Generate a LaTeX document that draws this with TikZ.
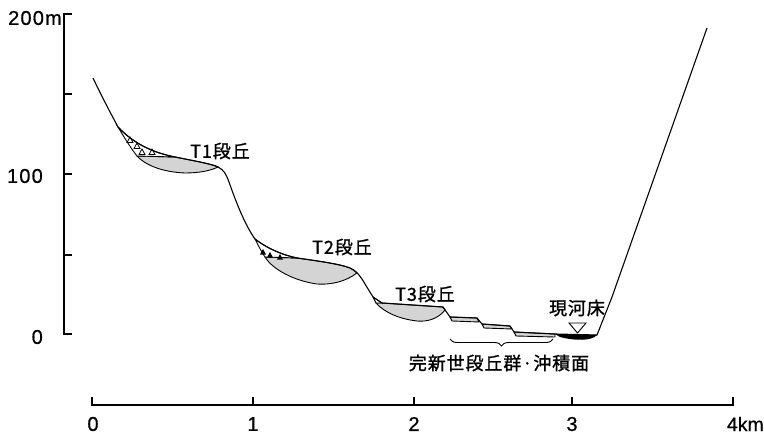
\documentclass[tikz,border=0pt]{standalone}
\usepackage{fontspec}
\setmainfont{Liberation Sans}
\newfontfamily\numfont[LetterSpace=6, FakeBold=0.6]{Liberation Sans}
\newfontfamily\unitfont[FakeBold=0.6]{Liberation Sans}
\newfontfamily\jfont[LetterSpace=5, FakeBold=1.2]{Noto Sans CJK JP}
\usetikzlibrary{decorations.pathreplacing}
\begin{document}
\begin{tikzpicture}[x=1pt,y=-1pt,
  axis/.style={line width=1.4pt},
  ground/.style={line width=1.1pt, line join=round},
  deposit/.style={fill=black!17, draw=black, line width=0.9pt},
  gravel/.style={fill=white, draw=black, line width=0.9pt},
  pebble/.style={draw=black, line width=0.8pt},
  numlabel/.style={font=\numfont\fontsize{20}{20}\selectfont, inner sep=0pt},
  jlabel/.style={font=\jfont\fontsize{18}{18}\selectfont, inner sep=0pt}]
\useasboundingbox (0,0) rectangle (764,439);

% vertical scale (metres)
\draw[axis] (72,14) -- (64,14) -- (64,334) -- (72,334);
\foreach \yy in {94,174,255} \draw[axis] (64,\yy) -- (72,\yy);
\node[numlabel, anchor=east] (y200) at (62,18) {200m};
\node[numlabel, anchor=east] (y100) at (43,176) {100};
\node[numlabel, anchor=east] (y0) at (43,337) {0};

% horizontal scale (km)
\draw[axis] (92,397) -- (92,405) -- (733,405) -- (733,397);
\foreach \xx in {253,414,572} \draw[axis] (\xx,405) -- (\xx,397);
\node[numlabel] (x0) at (93,424) {0};
\node[numlabel] (x1) at (253,424) {1};
\node[numlabel] (x2) at (414,424) {2};
\node[numlabel] (x3) at (572,424) {3};
\node[inner sep=0pt, font=\unitfont\fontsize{19.5}{19.5}\selectfont, anchor=east] (x4) at (764,424) {4km};

% T1 terrace: fill lens and gravel wedge
\path[deposit] (137,156) -- (175,157) .. controls (195,161) and (212,164) .. (218,167)
  .. controls (210,171) and (198,173) .. (185,173)
  .. controls (162,172) and (145,165) .. cycle;
\path[gravel] (118,127) .. controls (135,145) and (155,153) .. (175,157) -- (137,156)
  .. controls (130,147) and (124,137) .. cycle;
\foreach \p in {(130,140),(137,146),(142,152),(152,152)}
  \draw[pebble] \p ++(-3,2.5) -- ++(6,0) -- ++(-3,-5.5) -- cycle;

% T2 terrace
\path[deposit] (265,257) -- (297,258) .. controls (318,261) and (340,264) .. (350,268)
  .. controls (353,269) and (355,271) .. (357,273)
  .. controls (345,282) and (330,285) .. (317,284)
  .. controls (295,281) and (273,270) .. cycle;
\path[gravel] (255,239) .. controls (268,249) and (283,255) .. (297,258) -- (265,257)
  .. controls (261,251) and (258,245) .. cycle;
\foreach \p in {(263,252),(270,255),(280,257)}
  \fill \p ++(-3,2.5) -- ++(6,0) -- ++(-3,-5.5) -- cycle;

% T3 terrace
\path[deposit] (376,303) -- (382,303) -- (443,307) -- (445,310)
  .. controls (438,319) and (427,322) .. (417,321)
  .. controls (400,319) and (385,313) .. cycle;
\path[gravel] (373,297) -- (382,303) -- (376,303) -- cycle;

% Holocene terrace strips
\path[deposit] (450,317) -- (477,318) -- (479,322) -- (452,321) -- cycle;
\path[deposit] (482,324) -- (510,326) -- (512,329) -- (484,328) -- cycle;
\path[deposit] (514,332) -- (555,334) -- (555,337) -- (516,336) -- cycle;

% present river bed
\fill (555,334) -- (597,335) .. controls (592,341) and (575,341) .. (560,337) -- cycle;

% valley cross-section profile
\draw[ground] (93,78) .. controls (101,95) and (110,112) .. (118,127)
  .. controls (135,145) and (155,153) .. (175,157)
  .. controls (195,161) and (212,164) .. (218,167)
  .. controls (224,170) and (226,174) .. (229,182)
  .. controls (236,202) and (245,225) .. (255,239)
  .. controls (268,249) and (283,255) .. (297,258)
  .. controls (318,261) and (340,264) .. (350,268)
  .. controls (357,271) and (361,277) .. (365,284)
  -- (373,297) -- (382,303) -- (443,307) -- (450,317) -- (477,318)
  -- (482,324) -- (510,326) -- (514,332) -- (555,334) -- (597,335)
  -- (612,297) -- (707,28);

% water level mark
\draw[line width=0.9pt, fill=white] (569,323) -- (586,323) -- (577.5,333) -- cycle;

% brace under the Holocene terraces
\draw[line width=0.9pt, decorate, decoration={brace, mirror, amplitude=7pt}]
  (450,339) -- (553,339);

% labels
\node[jlabel] (t1) at (220,151) {T1段丘};
\node[jlabel] (t2) at (342,247) {T2段丘};
\node[jlabel] (t3) at (425,294) {T3段丘};
\node[jlabel] (river) at (577,308) {現河床};
\node[jlabel] (holo) at (499,363) {完新世段丘群·沖積面};
\end{tikzpicture}
\end{document}
